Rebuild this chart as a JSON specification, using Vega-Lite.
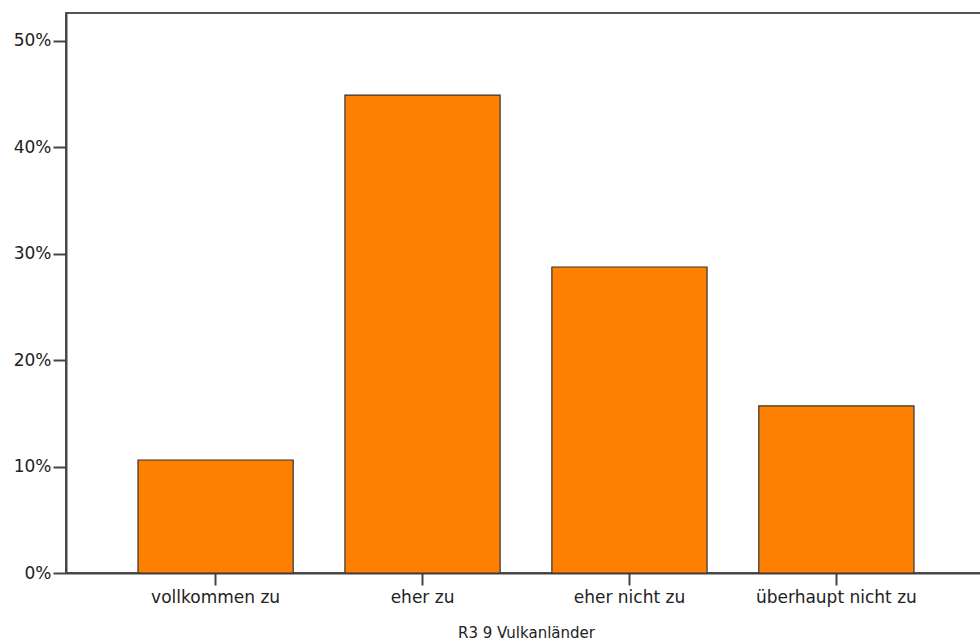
{
  "$schema": "https://vega.github.io/schema/vega-lite/v6.json",
  "autosize": {"type": "none"},
  "padding": {"left": 66, "top": 13, "right": 0, "bottom": 68},
  "width": 920,
  "height": 560,
  "background": "white",
  "view": {"stroke": "#555555", "strokeWidth": 2},
  "data": {
    "values": [
      {"kategorie": "vollkommen zu", "anteil": 0.1062},
      {"kategorie": "eher zu", "anteil": 0.4492},
      {"kategorie": "eher nicht zu", "anteil": 0.2876},
      {"kategorie": "überhaupt nicht zu", "anteil": 0.157}
    ]
  },
  "mark": {"type": "bar", "fill": "#FF8000", "stroke": "#333333", "strokeWidth": 1.2},
  "encoding": {
    "x": {
      "field": "kategorie",
      "type": "nominal",
      "sort": null,
      "scale": {"paddingInner": 0.25, "paddingOuter": 0.348},
      "axis": {
        "title": "R3 9 Vulkanländer",
        "titleFont": "DejaVu Sans",
        "titleFontSize": 15,
        "titleFontWeight": "normal",
        "titleColor": "#222222",
        "titlePadding": 20,
        "labelAngle": 0,
        "labelFont": "DejaVu Sans",
        "labelFontSize": 17,
        "labelColor": "#222222",
        "labelPadding": 4,
        "tickSize": 12,
        "tickColor": "#444444",
        "tickWidth": 2,
        "domainColor": "#444444",
        "domainWidth": 2
      }
    },
    "y": {
      "field": "anteil",
      "type": "quantitative",
      "scale": {"domain": [0, 0.5263], "nice": false},
      "axis": {
        "title": null,
        "values": [0, 0.1, 0.2, 0.3, 0.4, 0.5],
        "format": ".0%",
        "grid": false,
        "labelFont": "DejaVu Sans",
        "labelFontSize": 17,
        "labelColor": "#222222",
        "labelPadding": 2,
        "tickSize": 13,
        "tickColor": "#444444",
        "tickWidth": 2,
        "domainColor": "#444444",
        "domainWidth": 2
      }
    }
  }
}
